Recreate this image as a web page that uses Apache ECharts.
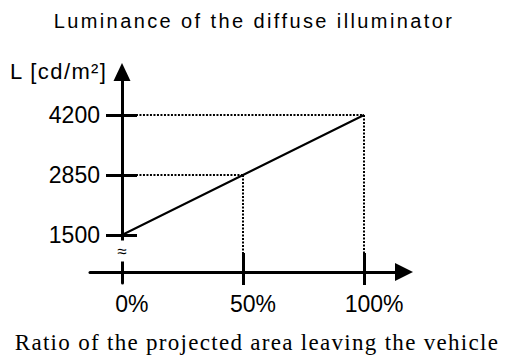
<!DOCTYPE html>
<html>
<head>
<meta charset="utf-8">
<title>Luminance of the diffuse illuminator</title>
<script src="https://cdn.jsdelivr.net/npm/echarts@6/dist/echarts.min.js"></script>
<style>
html, body { margin: 0; padding: 0; background: #fff; }
#chart { width: 507px; height: 360px; }
</style>
</head>
<body>
<div id="chart"></div>
<script>
// luminance of the diffuse illuminator vs. ratio of projected area
var ratio = [0, 50, 100];            // %
var luminance = [1500, 2850, 4200];  // cd/m²
var yTicks = [1500, 2850, 4200];
var xTicks = [50, 100];
var xLabels = [0, 50, 100];
var guideIdx = [1, 2];               // points that get dotted guide lines
var breakAt = 1140;                  // where the axis break mark sits

var titleText = 'Luminance of the diffuse illuminator';
var captionText = 'Ratio of the projected area leaving the vehicle';
var yName = 'L [cd/m²]';

var sans = '"Liberation Sans", Arial, sans-serif';
var serif = '"Liberation Serif", "Times New Roman", serif';

// axis ranges (broken y axis: x axis sits at yBase)
var xMin = -13.2, xMax = 116.5;
var yMin = 420, yMax = 5167.5, yBase = 667.5;

var chart = echarts.init(document.getElementById('chart'), null, {renderer: 'svg'});

var lineData = ratio.map(function(r, i){ return [r, luminance[i]]; });

var guides = [];
guideIdx.forEach(function(i){
    guides.push([{coord: [0, luminance[i]]}, {coord: [ratio[i], luminance[i]]}]);
    guides.push([{coord: [ratio[i], luminance[i]]}, {coord: [ratio[i], yBase]}]);
});

var black = '#000';
var hidden = {color: 'rgba(0,0,0,0)', width: 0};

var option = {
    animation: false,
    backgroundColor: '#fff',
    grid: {left: 90, right: 103, top: 72, bottom: 77, containLabel: false, outerBoundsMode: 'none'},
    xAxis: [{
        type: 'value', min: xMin, max: xMax, position: 'bottom', offset: -11,
        splitLine: {show: false},
        axisLine: {onZero: false, symbol: ['none', 'triangle'], symbolSize: [18, 18],
            lineStyle: {color: black, width: 3}},
        axisTick: {show: false},
        axisLabel: {customValues: xLabels, formatter: '{value}%', color: black,
            fontFamily: sans, fontSize: 23, margin: 20, padding: [0, 0, 0, 20]}
    }, {
        // tick marks that cross the x axis (drawn upward from below the line)
        type: 'value', min: xMin, max: xMax, position: 'bottom', offset: 2,
        splitLine: {show: false},
        axisLine: {show: true, onZero: false, lineStyle: hidden},
        axisTick: {show: true, customValues: xTicks, inside: true, length: 32,
            lineStyle: {color: black, width: 3}},
        axisLabel: {show: false}
    }],
    yAxis: [{
        // sits on x = 0
        type: 'value', min: yMin, max: yMax, position: 'left', offset: -32,
        splitLine: {show: false},
        axisLine: {onZero: false, symbol: ['none', 'triangle'], symbolSize: [17, 18],
            lineStyle: {color: black, width: 3}},
        axisTick: {show: false},
        axisLabel: {customValues: yTicks, formatter: function(v){ return String(v); },
            color: black, fontFamily: sans, fontSize: 23, margin: 22}
    }, {
        // tick marks that cross the y axis (drawn rightward from left of the line)
        type: 'value', min: yMin, max: yMax, position: 'left', offset: -16,
        splitLine: {show: false},
        axisLine: {show: true, onZero: false, lineStyle: hidden},
        axisTick: {show: true, customValues: yTicks, inside: true, length: 31,
            lineStyle: {color: black, width: 3}},
        axisLabel: {show: false}
    }],
    graphic: [{
        type: 'text', x: 254, y: 21,
        style: {text: titleText, fill: black, font: '20px ' + sans, textAlign: 'center', textVerticalAlign: 'middle'}
    }, {
        type: 'text', x: 257, y: 342,
        style: {text: captionText, fill: black, font: '23px ' + serif, textAlign: 'center', textVerticalAlign: 'middle'}
    }, {
        type: 'text', x: 10, y: 71,
        style: {text: yName, fill: black, font: '22px ' + sans, textAlign: 'left', textVerticalAlign: 'middle'}
    }],
    series: [{
        type: 'line',
        data: lineData,
        symbol: 'none',
        lineStyle: {color: black, width: 2},
        markLine: {
            silent: true,
            symbol: ['none', 'none'],
            label: {show: false},
            lineStyle: {color: black, width: 2, type: [2, 1.5]},
            data: guides
        },
        markPoint: {
            silent: true,
            symbol: 'rect',
            symbolSize: 1,
            itemStyle: {color: 'rgba(0,0,0,0)'},
            label: {show: true, position: 'inside', formatter: '\u2248', color: black,
                fontFamily: sans, fontSize: 17, backgroundColor: '#fff', padding: [2, 1]},
            data: [{coord: [0, breakAt]}]
        }
    }, {
        // keeps the tick-only axes in use
        type: 'line', xAxisIndex: 1, yAxisIndex: 1, data: [], symbol: 'none', silent: true
    }]
};

chart.setOption(option);

// loose tracking like the original lettering
function spaceOut(){
    var texts = document.querySelectorAll('#chart text');
    for (var i = 0; i < texts.length; i++) {
        var t = texts[i];
        if (t.textContent === titleText) t.style.letterSpacing = '2.4px';
        if (t.textContent === captionText) t.style.letterSpacing = '1.3px';
        if (t.textContent === yName) t.style.letterSpacing = '1.4px';
    }
}
spaceOut();
chart.on('rendered', spaceOut);
</script>
</body>
</html>
